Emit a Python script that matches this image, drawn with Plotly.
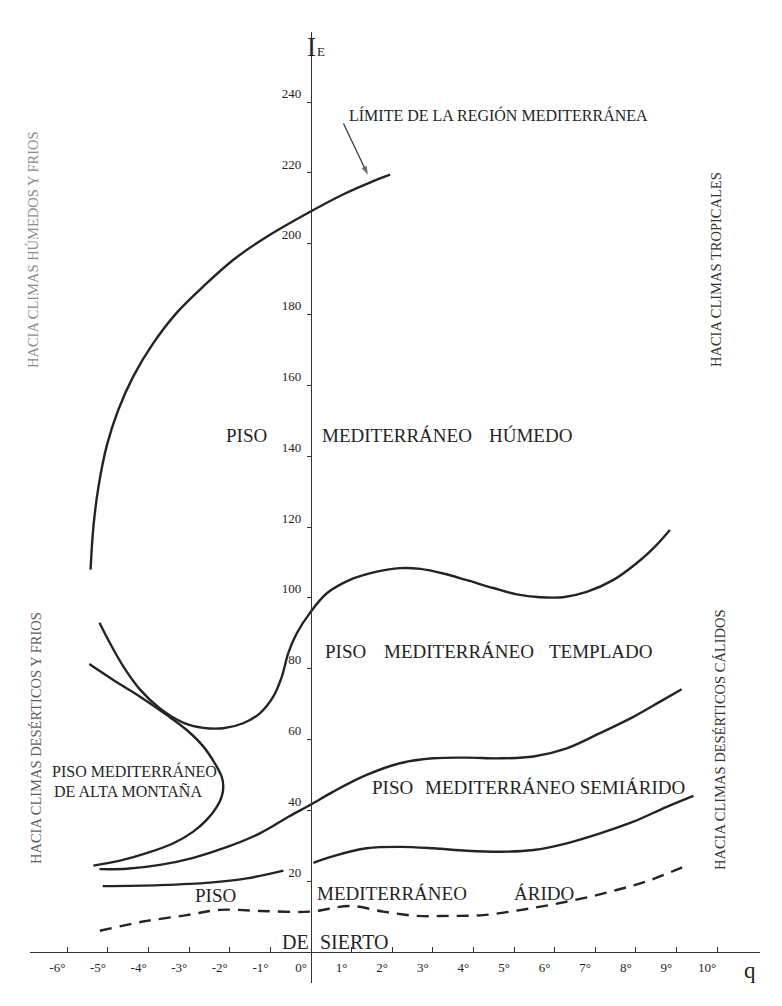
import plotly.graph_objects as go

# ---------------- data (q = x, I_E = y) ----------------
limite_q = [-5.43, -5.36, -5.24, -5.03, -4.75, -4.38, -3.88, -3.31, -2.65, -1.91, -1.09, -0.11, 0.80, 1.45, 1.95]
limite_I = [108, 120, 131, 143, 153, 162.5, 172, 180.5, 188, 195.5, 202, 208.5, 214, 217.3, 219.5]

humedo_q = [-5.21, -4.95, -4.62, -4.21, -3.72, -3.15, -2.65, -2.16, -1.67, -1.26, -0.93, -0.72, -0.56, -0.35,
            -0.03, 0.39, 0.96, 1.62, 2.19, 2.69, 3.26, 3.84, 4.49, 5.07, 5.64, 6.21, 6.79, 7.45, 8.02, 8.43, 8.84]
humedo_I = [93.0, 87.2, 80.6, 74.1, 68.8, 64.8, 63.3, 63.2, 64.6, 67.4, 72.1, 77.7, 84.4, 90.0,
            95.7, 101.3, 105.1, 107.4, 108.4, 108.2, 106.9, 105.0, 102.8, 101.0, 100.2, 100.2, 101.7, 105.1, 109.8, 114.0, 119.2]

montana_q = [-5.46, -4.87, -4.21, -3.55, -3.06, -2.65, -2.37, -2.20, -2.16, -2.20, -2.32, -2.57, -2.90, -3.39, -4.05, -4.70, -5.36]
montana_I = [81.3, 76.8, 72.1, 66.9, 62.7, 58.0, 53.3, 49.5, 46.7, 43.9, 41.0, 37.3, 34.0, 30.7, 27.9, 25.8, 24.4]

templado_q = [-5.21, -4.54, -3.72, -2.90, -2.08, -1.26, -0.52, -0.01, 0.55, 1.37, 2.19, 3.01, 3.84, 4.66, 5.48, 6.30, 7.12, 7.94, 8.60, 9.13]
templado_I = [23.4, 23.5, 24.6, 26.6, 29.6, 33.5, 38.4, 41.6, 45.3, 50.0, 53.3, 54.7, 54.9, 54.7, 55.2, 57.5, 61.8, 66.4, 70.7, 74.2]

arido_left_q = [-5.13, -3.72, -2.49, -1.58, -0.68]
arido_left_I = [18.6, 18.9, 19.6, 20.8, 23.0]

semiarido_q = [0.06, 0.55, 1.37, 2.19, 3.01, 3.84, 4.66, 5.48, 6.30, 7.12, 7.94, 8.76, 9.42]
semiarido_I = [25.2, 27.1, 29.3, 29.7, 29.3, 28.6, 28.3, 28.8, 30.7, 33.5, 36.8, 41.0, 44.1]

desierto_q = [-5.20, -4.13, -3.06, -2.24, -1.26, -0.03, 0.96, 1.78, 2.60, 3.42, 4.24, 5.07, 5.89, 6.71, 7.53, 8.35, 9.29]
desierto_I = [6.0, 8.6, 10.4, 11.9, 11.6, 11.4, 13.0, 11.4, 10.2, 10.2, 10.4, 11.7, 13.3, 15.2, 17.5, 20.3, 24.6]

# pointer from the "LÍMITE" label to the limit curve (tail, head)
pointer_q = [0.80, 1.40]
pointer_I = [234.0, 219.5]

x_tick_vals = [-6, -5, -4, -3, -2, -1, 0, 1, 2, 3, 4, 5, 6, 7, 8, 9, 10]
x_tick_text = ["-6°", "-5°", "-4°", "-3°", "-2°", "-1°", "0°", "1°", "2°", "3°", "4°", "5°",
               "6°", "7°", "8°", "9°", "10°"]
y_tick_vals = [20, 40, 60, 80, 100, 120, 140, 160, 180, 200, 220, 240]
y_tick_text = ["20", "40", "60", "80", "100", "120", "140", "160", "180", "200", "220", "240"]

# ---------------- layout geometry ----------------
W, H = 782, 1006
SERIF = "Liberation Serif, Times New Roman, serif"
INK = "#242424"

X_RANGE = [-6.921, 11.059]
Y_RANGE = [-8.754, 259.81]
X_DOMAIN = [30 / W, 760 / W]
Y_DOMAIN = [(H - 983) / H, (H - 32) / H]

fig = go.Figure()

line_style = dict(color=INK, width=2.4, shape="spline", smoothing=1.0)
for qs, Is in [(limite_q, limite_I), (humedo_q, humedo_I), (montana_q, montana_I),
               (templado_q, templado_I), (arido_left_q, arido_left_I), (semiarido_q, semiarido_I)]:
    fig.add_trace(go.Scatter(x=qs, y=Is, mode="lines", line=line_style,
                             hoverinfo="skip", showlegend=False, cliponaxis=False))

fig.add_trace(go.Scatter(x=desierto_q, y=desierto_I, mode="lines",
                         line=dict(color=INK, width=2.4, shape="spline", smoothing=1.0, dash="12px,8px"),
                         hoverinfo="skip", showlegend=False, cliponaxis=False))

# arrow
fig.add_trace(go.Scatter(x=pointer_q, y=pointer_I, mode="lines+markers",
                         line=dict(color="#333", width=1.2),
                         marker=dict(symbol=["circle", "arrow"], size=[0, 9], color="#333",
                                     angleref="previous", line=dict(width=0)),
                         hoverinfo="skip", showlegend=False, cliponaxis=False))

annotations = []


def ann(text, px, py, size=19, xanchor="left", color=INK, angle=0):
    annotations.append(dict(text=text, x=px / W, y=1 - py / H, xref="paper", yref="paper",
                            xanchor=xanchor, yanchor="middle", showarrow=False, textangle=angle,
                            font=dict(family=SERIF, size=size, color=color)))


# region labels
ann("PISO", 224, 435)
ann("MEDITERRÁNEO", 320, 435)
ann("HÚMEDO", 487, 435)
ann("PISO", 323, 651)
ann("MEDITERRÁNEO", 382, 651)
ann("TEMPLADO", 547, 651)
ann("PISO", 370, 787)
ann("MEDITERRÁNEO SEMIÁRIDO", 423, 787)
ann("PISO MEDITERRÁNEO", 50, 771, size=16)
ann("DE ALTA MONTAÑA", 52, 791, size=16)
ann("PISO", 193, 895)
ann("MEDITERRÁNEO", 315, 893)
ann("ÁRIDO", 512, 893)
ann("DE", 311, 942, size=20, xanchor="right")
ann("SIERTO", 318, 942, size=20)
ann("LÍMITE DE LA REGIÓN MEDITERRÁNEA", 347, 115, size=16)

# side texts
ann("HACIA CLIMAS HÚMEDOS Y FRIOS", 33, 250, size=14.5, xanchor="center", color="#8c8c8c", angle=-90)
ann("HACIA CLIMAS DESÉRTICOS Y FRIOS", 36, 738, size=14.5, xanchor="center", color="#5e5e5e", angle=-90)
ann("HACIA CLIMAS TROPICALES", 716, 270, size=14.5, xanchor="center", color="#333333", angle=-90)
ann("HACIA CLIMAS DESÉRTICOS CÁLIDOS", 720, 740, size=14.5, xanchor="center", color="#333333", angle=-90)

# axis titles
ann("I", 305, 47, size=27)
ann("E", 315, 52, size=13)
ann("q", 750, 970, size=23, xanchor="center")

fig.update_layout(
    width=W, height=H, margin=dict(l=0, r=0, t=0, b=0),
    paper_bgcolor="white", plot_bgcolor="white", showlegend=False,
    annotations=annotations,
    xaxis=dict(domain=X_DOMAIN, range=X_RANGE, anchor="free", position=(H - 952) / H,
               showline=True, linecolor="#333", linewidth=1.3, showgrid=False, zeroline=False,
               ticks="inside", ticklen=5, tickwidth=1.1, tickcolor="#333",
               tickvals=x_tick_vals, ticktext=x_tick_text, ticklabelshift=-10, ticklabelstandoff=3,
               tickfont=dict(family=SERIF, size=13, color=INK)),
    yaxis=dict(domain=Y_DOMAIN, range=Y_RANGE, anchor="free", position=311 / W,
               showline=True, linecolor="#333", linewidth=1.3, showgrid=False, zeroline=False,
               ticks="outside", ticklen=4, tickwidth=1.1, tickcolor="#333",
               tickvals=y_tick_vals, ticktext=y_tick_text, ticklabelshift=-9, ticklabelstandoff=3,
               tickfont=dict(family=SERIF, size=13, color=INK)),
)

fig.write_html("out.html")
